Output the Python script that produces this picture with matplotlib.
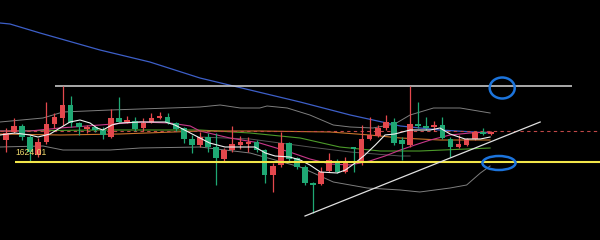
#!/usr/bin/env python3
import numpy as np
import matplotlib
matplotlib.use("Agg")
import matplotlib.pyplot as plt
from matplotlib.patches import Ellipse

# candle OHLC values
opens = [1635, 1639, 1642, 1636.5, 1627.5, 1634, 1643, 1646, 1652.5, 1643.5,
         1640.5, 1641.5, 1640, 1636.5, 1646, 1644, 1644.5, 1641, 1644, 1646,
         1646.5, 1643.5, 1641, 1635.5, 1632.5, 1636.5, 1631.5, 1625.5, 1630, 1632.5,
         1633, 1634, 1630, 1617.5, 1622.5, 1633.5, 1626, 1621.5, 1613.5, 1613,
         1619.5, 1624.5, 1619, 1631.5, 1623.5, 1635.5, 1637, 1641, 1644, 1635,
         1632.5, 1643, 1642, 1641.5, 1642.5, 1635.5, 1631.5, 1632.5, 1635.5, 1639,
         1638]
highs = [1641, 1646, 1643, 1637.5, 1636, 1654, 1648.5, 1662, 1657, 1644,
         1642.5, 1642, 1641.5, 1650.5, 1656.5, 1647, 1646.5, 1646, 1648.5, 1649,
         1648.5, 1644, 1641.5, 1637.5, 1639, 1638.5, 1638.5, 1631, 1642, 1637,
         1636.5, 1635, 1630.5, 1623.5, 1639, 1634, 1626.5, 1622.5, 1614, 1621.5,
         1628.5, 1625.5, 1626.5, 1631.5, 1642.5, 1646.5, 1642.5, 1647.5, 1646, 1636.5,
         1662, 1654, 1646.5, 1644.5, 1646.5, 1636.5, 1637.5, 1636, 1639.5, 1641,
         1639.5]
lows = [1629, 1638.5, 1635, 1624, 1626.5, 1633, 1641, 1642.5, 1641.5, 1637.5,
        1638.5, 1639, 1635.5, 1636, 1644, 1643.5, 1639.5, 1639.5, 1643.5, 1645.5,
        1643, 1639.5, 1633.5, 1628.5, 1631.5, 1629, 1612.5, 1624.5, 1629, 1630.5,
        1629, 1629, 1613.5, 1609, 1621.5, 1624.5, 1620.5, 1612.5, 1598.5, 1612.5,
        1619, 1618.5, 1618.5, 1619, 1622.5, 1635, 1636.5, 1640, 1632.5, 1625,
        1631.5, 1641, 1640, 1639.5, 1635.5, 1626.5, 1631, 1632, 1635, 1637.5,
        1637.5]
closes = [1638.5, 1642, 1636.5, 1629, 1634, 1643, 1646.5, 1652.5, 1643.5, 1641.5,
          1641.5, 1640, 1637.5, 1646, 1644, 1645, 1640.5, 1643.5, 1646, 1647,
          1643.5, 1640.5, 1635.5, 1632.5, 1636.5, 1631.5, 1626, 1630, 1633, 1634,
          1634, 1630, 1617.5, 1622, 1633.5, 1625.5, 1621.5, 1613.5, 1612.5, 1619,
          1625, 1619, 1623.5, 1630.5, 1635.5, 1637.5, 1641, 1644, 1633.5, 1633,
          1643, 1642, 1641, 1642.5, 1636, 1631.5, 1633, 1635.5, 1639, 1638,
          1639]

# indicator lines: (bar position, price)
ma_white_x = [-0.74, 1.11, 2.97, 3.96, 5.45, 6.68, 7.92, 9.16, 10.4, 11.26, 12.0, 13.1,
              14.1, 16.6, 19.7, 20.9, 22.8, 24.0, 25.2, 27.1, 29.0, 30.8, 32.1, 33.3,
              35.1, 36.4, 37.6, 38.9, 41.0, 42.0, 43.2, 44.4, 45.7, 46.9, 48.1, 50.0,
              52.5, 53.7, 54.95, 56.8, 58.7, 59.9]
ma_white_y = [1637.5, 1638.5, 1637.5, 1636.5, 1638, 1641, 1644, 1645, 1643.5, 1641, 1640, 1642.5,
              1643.5, 1644, 1644, 1642.5, 1638.5, 1636, 1633.5, 1631.5, 1631.5, 1631.5, 1628.5, 1627,
              1626.5, 1625, 1622.5, 1619, 1618.5, 1620, 1623.5, 1627.5, 1632.5, 1637.5, 1638, 1640,
              1640, 1641, 1638, 1635.5, 1635.5, 1636.5]
ma_pink_x = [-0.74, 2.97, 6.68, 11.63, 16.6, 20.3, 22.8, 24.0, 27.7, 31.4, 35.1, 37.6,
             40.1, 42.6, 45.0, 46.9, 48.8, 50.6, 52.5, 54.95, 57.4, 59.9]
ma_pink_y = [1639.5, 1639.5, 1641, 1642.5, 1644, 1643.5, 1642, 1639.5, 1636, 1633.5, 1629, 1625.5,
             1623, 1622.5, 1624.5, 1627, 1630, 1632.5, 1635, 1637.5, 1638.5, 1639]
ma_orange_x = [-0.74, 6.68, 14.1, 24.0, 31.4, 40.1, 45.0, 48.8, 53.7, 59.9]
ma_orange_y = [1638, 1637.5, 1638, 1639.5, 1639.5, 1639, 1637.5, 1636, 1635, 1635]
ma_green_x = [-0.74, 11.63, 24.0, 30.2, 36.4, 41.3, 46.3, 51.2, 59.9]
ma_green_y = [1639.5, 1640, 1640, 1638.5, 1636, 1631.5, 1629.5, 1629.5, 1631]
ma_blue_x = [-0.74, 0.5, 4.21, 11.63, 17.8, 24.0, 30.2, 36.4, 42.6, 48.8, 53.7, 59.9]
ma_blue_y = [1693.5, 1693, 1688.5, 1680, 1674, 1666, 1660, 1654, 1647.5, 1642, 1640, 1638.5]
band_up_x = [-0.74, 4.58, 7.05, 12.9, 24.0, 26.5, 29.0, 31.4, 32.3, 34.8, 37.6, 40.5,
             42.6, 45.4, 48.1, 50.0, 52.9, 56.2, 59.9]
band_up_y = [1644, 1646, 1649, 1650, 1651.5, 1652.5, 1651, 1651, 1652, 1651, 1647.5, 1642.5,
             1641.5, 1641, 1643, 1647.5, 1651, 1651, 1648.5]
band_lo_x = [-0.74, 4.58, 7.05, 12.9, 16.6, 24.0, 30.2, 36.4, 40.5, 44.7, 48.8, 51.2,
             54.95, 57.0, 58.7, 59.9]
band_lo_y = [1631.5, 1632, 1630, 1630, 1631, 1631.5, 1628.5, 1621.5, 1614, 1611, 1610, 1609,
             1611, 1612.5, 1618.5, 1622]
band_mid_x = [24.0, 30.2, 37.6, 42.6, 48.8, 50.0]
band_mid_y = [1636.5, 1635.5, 1631.5, 1629, 1627, 1627]

# drawn levels
resist = 1662
support = 1624.01
last_level = 1639.5
trend_x = [37.0, 66.1]
trend_y = [1597, 1644]

red = "#e4484d"
green = "#1fa874"

fig = plt.figure(figsize=(6, 2.4), dpi=100, facecolor="black")
ax = fig.add_axes([0, 0, 1, 1], facecolor="black")

ax.plot(band_up_x, band_up_y, color="#7e7e7e", lw=0.7)
ax.plot(band_lo_x, band_lo_y, color="#7e7e7e", lw=0.7)
ax.plot(band_mid_x, band_mid_y, color="#555555", lw=0.7)
ax.plot(ma_blue_x, ma_blue_y, color="#3d5fc8", lw=0.9)
ax.plot(ma_green_x, ma_green_y, color="#4c9a2a", lw=0.8)
ax.plot(ma_orange_x, ma_orange_y, color="#c8742a", lw=0.8)
ax.plot(ma_pink_x, ma_pink_y, color="#c8388a", lw=0.8)

ax.axhline(last_level, color="#c04848", lw=0.8, ls=(0, (3, 3)))

n = len(opens)
xs = np.arange(n)
o = np.array(opens); c = np.array(closes)
up = c >= o
cols = np.where(up, red, green)
ax.vlines(xs, lows, highs, colors=cols, lw=0.9, zorder=3)
body = np.maximum(np.abs(c - o), 0.6)
ax.bar(xs, body, bottom=np.minimum(o, c), width=0.7, color=cols, zorder=4)

ax.plot(ma_white_x, ma_white_y, color="#f0f0f0", lw=0.8, zorder=5)

ax.hlines(resist, 6.06, 70.05, color="#d8d8d8", lw=1.1)
ax.hlines(support, 1.11, 74, color="#f2e64a", lw=1.5, zorder=6)
ax.plot(trend_x, trend_y, color="#e0e0e0", lw=0.9, zorder=6)

ax.add_patch(Ellipse((61.4, 1661), 3.1, 10.5, fill=False, ec="#1c74dc", lw=1.8, zorder=7))
ax.add_patch(Ellipse((61.0, 1623.5), 4.1, 7, fill=False, ec="#1c74dc", lw=1.8, zorder=7))

ax.text(1.2, 1628.8, "%.2f" % support, color="#ecd86c", fontsize=6.2,
        family="Liberation Sans", va="center", ha="left", zorder=8)

ax.set_xlim(-0.74, 73.5)
ax.set_ylim(1585, 1705)
ax.axis("off")
fig.savefig("out.png", dpi=100, facecolor="black")
